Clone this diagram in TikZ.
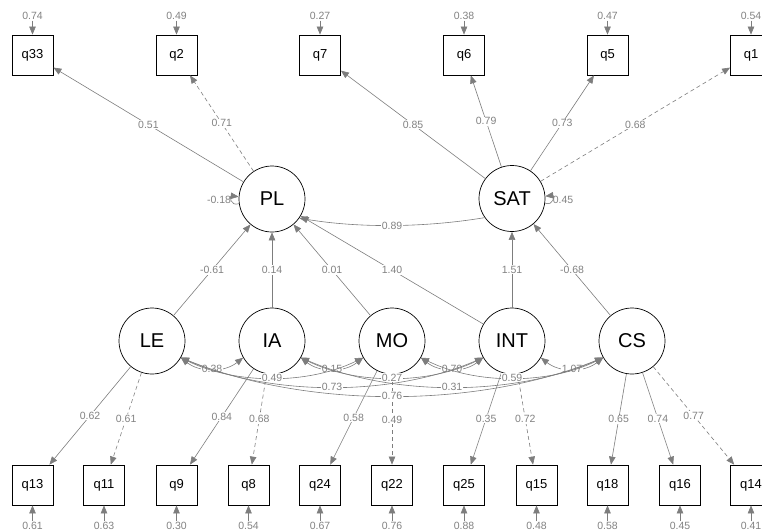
\documentclass[tikz,border=0pt]{standalone}
\usepackage{fontspec}
\setmainfont{Liberation Sans}
\usetikzlibrary{arrows.meta,calc}
\definecolor{edgegray}{RGB}{125,125,125}
\definecolor{labgray}{RGB}{130,130,130}
\tikzset{
  lat/.style={circle, draw=black, line width=0.7pt, minimum size=66pt, inner sep=0pt, font=\fontsize{20}{24}\selectfont},
  man/.style={rectangle, draw=black, line width=0.8pt, minimum width=41pt, minimum height=40pt, inner sep=0pt, font=\fontsize{13}{15}\selectfont},
  tip/.tip={Triangle[length=8pt,width=6.5pt]},
  arr/.style={draw=edgegray, line width=0.6pt, -tip},
  dasharr/.style={arr, dash pattern=on 4pt off 3pt},
  cov/.style={draw=edgegray, line width=0.6pt, tip-tip},
  lab/.style={font=\fontsize{10.5}{12}\selectfont, text=labgray, fill=white, inner sep=0.8pt},
  reslab/.style={font=\fontsize{10.5}{12}\selectfont, text=labgray, inner sep=0.8pt}
}
\newcommand{\covar}[5]{\draw[cov] (#1.-30) .. controls +(#3,#4) and +(-#3,#4) .. node[lab,pos=0.5]{#5} (#2.210);}
\begin{document}
\begin{tikzpicture}[x=1pt,y=-1pt]
\useasboundingbox (0,0) rectangle (762,531);
% manifest top
\foreach \n/\x/\r in {q33/32.5/0.74, q2/176.5/0.49, q7/320/0.27, q6/464/0.38, q5/607.5/0.47, q1/751/0.54}{
  \node[man] (\n) at (\x,55) {\n};
  \node[reslab] (r\n) at (\x,16) {\r};
  \draw[arr] (r\n.south) -- (\n.north);
}
% manifest bottom
\foreach \n/\x/\r in {q13/32.5/0.61, q11/104/0.63, q9/176.5/0.30, q8/248.5/0.54, q24/320/0.67, q22/392/0.76, q25/464/0.88, q15/536.5/0.48, q18/607.5/0.58, q16/680/0.45, q14/751/0.41}{
  \node[man] (\n) at (\x,485) {\n};
  \node[reslab] (r\n) at (\x,526) {\r};
  \draw[arr] (r\n.north) -- (\n.south);
}
% latents
\node[lat] (PL) at (272,199) {PL};
\node[lat] (SAT) at (512,198.5) {SAT};
\node[lat] (LE) at (152,341) {LE};
\node[lat] (IA) at (272,341) {IA};
\node[lat] (MO) at (392,341) {MO};
\node[lat] (INT) at (512,341) {INT};
\node[lat] (CS) at (632,341) {CS};
% loadings top
\draw[arr] (PL) -- node[lab]{0.51} (q33);
\draw[dasharr] (PL) -- node[lab]{0.71} (q2);
\draw[arr] (SAT) -- node[lab]{0.85} (q7);
\draw[arr] (SAT) -- node[lab]{0.79} (q6);
\draw[arr] (SAT) -- node[lab]{0.73} (q5);
\draw[dasharr] (SAT) -- node[lab]{0.68} (q1);
% loadings bottom
\draw[arr] (LE) -- node[lab]{0.62} (q13);
\draw[dasharr] (LE) -- node[lab]{0.61} (q11);
\draw[arr] (IA) -- node[lab]{0.84} (q9);
\draw[dasharr] (IA) -- node[lab]{0.68} (q8);
\draw[arr] (MO) -- node[lab]{0.58} (q24);
\draw[dasharr] (MO) -- node[lab]{0.49} (q22);
\draw[arr] (INT) -- node[lab]{0.35} (q25);
\draw[dasharr] (INT) -- node[lab]{0.72} (q15);
\draw[arr] (CS) -- node[lab]{0.65} (q18);
\draw[arr] (CS) -- node[lab]{0.74} (q16);
\draw[dasharr] (CS) -- node[lab]{0.77} (q14);
% structural
\draw[arr] (LE) -- node[lab]{-0.61} (PL);
\draw[arr] (IA) -- node[lab]{0.14} (PL);
\draw[arr] (MO) -- node[lab]{0.01} (PL);
\draw[arr] (INT) -- node[lab]{1.40} (PL);
\draw[arr] (INT) -- node[lab]{1.51} (SAT);
\draw[arr] (CS) -- node[lab]{-0.68} (SAT);
\draw[arr] (SAT.215) .. controls +(-60,10) and +(60,10) .. node[lab,pos=0.5]{0.89} (PL.-35);
% latent residuals
\node[reslab] (rPL) at (219,200) {-0.18};
\draw[arr] (PL.188) .. controls +(-9,3) and +(-9,-1) .. (PL.176);
\node[reslab] (rSAT) at (563,200) {0.45};
\draw[arr] (SAT.-8) .. controls +(9,3) and +(9,-1) .. (SAT.4);
% covariances
\covar{LE}{IA}{19}{15}{0.38}
\covar{IA}{MO}{19}{15}{0.15}
\covar{MO}{INT}{19}{15}{0.70}
\covar{INT}{CS}{19}{15}{1.07}
\covar{LE}{MO}{55}{27}{0.49}
\covar{IA}{INT}{55}{27}{0.27}
\covar{MO}{CS}{55}{27}{0.59}
\covar{LE}{INT}{91}{39}{0.73}
\covar{IA}{CS}{91}{39}{0.31}
\covar{LE}{CS}{127}{51}{0.76}
\end{tikzpicture}
\end{document}
